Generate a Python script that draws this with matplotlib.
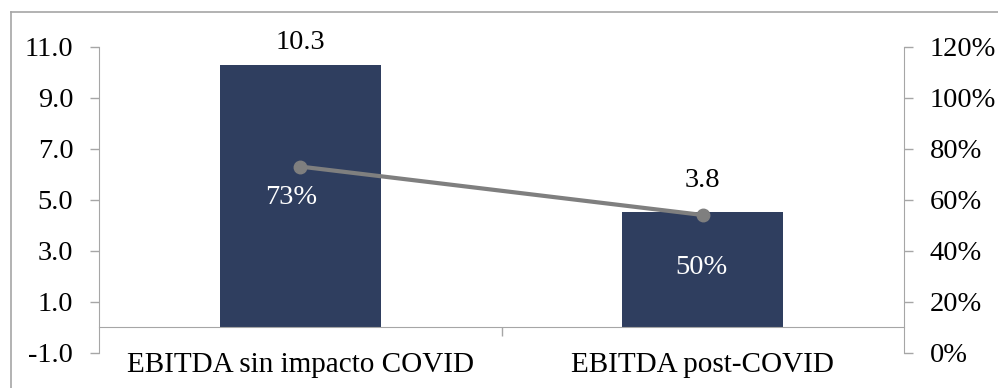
import matplotlib.pyplot as plt
from matplotlib.lines import Line2D
from matplotlib.ticker import FuncFormatter

# data
categories = ['EBITDA sin impacto COVID', 'EBITDA post-COVID']
ebitda = [10.3, 4.5]
ebitda_labels = ['10.3', '3.8']
margin = [0.73, 0.54]
margin_labels = ['73%', '50%']

plt.rcParams['font.family'] = ['Liberation Serif', 'DejaVu Serif']
plt.rcParams['font.size'] = 20.5

grey = '#A6A6A6'
navy = '#2F3E5F'

fig = plt.figure(figsize=(9.98, 3.88), dpi=100)
ax = fig.add_axes([99 / 998, 35.3 / 388, 805 / 998, 306 / 388])

x = list(range(len(categories)))
ax.bar(x, ebitda, width=0.4, color=navy, zorder=2)
ax.set_xlim(-0.5, 1.5)
ax.set_ylim(-1, 11)
ax.set_yticks([-1, 1, 3, 5, 7, 9, 11])
ax.yaxis.set_major_formatter(FuncFormatter(lambda v, p: f'{v:.1f}'))

for s in ['top', 'right']:
    ax.spines[s].set_visible(False)
ax.spines['left'].set_color(grey)
ax.spines['bottom'].set_color(grey)
ax.spines['bottom'].set_position(('data', 0))
ax.tick_params(axis='y', length=6.5, width=1, color=grey, pad=12)

# divider tick between categories on the zero line, labels pushed to the bottom
ax.set_xticks([0.5])
ax.set_xticklabels([''])
ax.set_xticks(x, minor=True)
ax.set_xticklabels(categories, minor=True, fontsize=21)
ax.tick_params(axis='x', which='major', length=6.5, width=1, color=grey)
ax.tick_params(axis='x', which='minor', length=0, pad=18)

bar_offsets = [16, 23]
for xi, v, lab, off in zip(x, ebitda, ebitda_labels, bar_offsets):
    ax.annotate(lab, (xi, v), xytext=(0, off), textcoords='offset points',
                ha='center', va='center')

ax2 = ax.twinx()
ax2.plot(x, margin, color='#7F7F7F', lw=3, marker='o', ms=9, zorder=3)
ax2.set_ylim(0, 1.2)
ax2.set_yticks([0, 0.2, 0.4, 0.6, 0.8, 1.0, 1.2])
ax2.yaxis.set_major_formatter(FuncFormatter(lambda v, p: f'{v * 100:.0f}%'))
for s in ['top', 'left', 'bottom']:
    ax2.spines[s].set_visible(False)
ax2.spines['right'].set_color(grey)
ax2.tick_params(axis='y', length=6.5, width=1, color=grey, pad=12)

label_offsets = [(-6.5, -22.5), (-1, -37.7)]
for xi, v, lab, off in zip(x, margin, margin_labels, label_offsets):
    ax2.annotate(lab, (xi, v), xytext=off, textcoords='offset points',
                 ha='center', va='center', color='white')

# frame of the surrounding box
fig.add_artist(Line2D([11 / 998, 11 / 998], [0, 376 / 388], color=grey, lw=1.2,
                      transform=fig.transFigure))
fig.add_artist(Line2D([11 / 998, 1], [376 / 388, 376 / 388], color=grey, lw=1.2,
                      transform=fig.transFigure))

fig.savefig('out.png', dpi=100)
